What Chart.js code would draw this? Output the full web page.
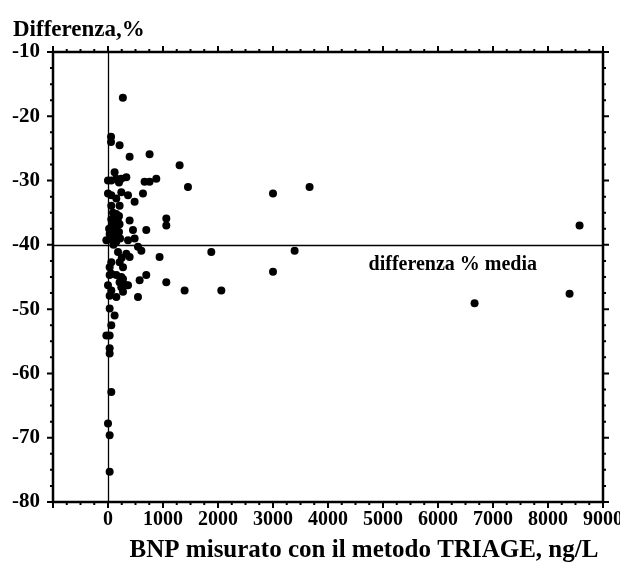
<!DOCTYPE html>
<html>
<head>
<meta charset="utf-8">
<script src="https://cdn.jsdelivr.net/npm/chart.js@4.4.1/dist/chart.umd.min.js"></script>
<style>
  html, body { margin: 0; padding: 0; background: #fff; }
  #wrap { width: 620px; height: 568px; }
</style>
</head>
<body>
<div id="wrap"><canvas id="c" width="620" height="568"></canvas></div>
<script>
// BNP (TRIAGE), ng/L
var bnp = [
  270, 55, 55, 211, 393, 756, 1302, 120,
  0, 151, 242, 333, 665, 756, 878, 60, 200, 1454, 3000, 3665,
  0, 60, 242, 364, 636, 151, 60, 211, 484,
  90, 150, 200, 120, 60, 180, 100, 210, 60, 150, 90, 200, 30, 120, 180, 60, 150, 100, 20, 220,
  393, 1060, 1060, 454, 696, 484, 364, 545, 606, -30, 8574,
  938, 1878, 3393, 182, 333, 393, 60, 211, 273, 30, 250,
  60, 242, 696, 575, 1060, 30, 151, 273, 333, 242, 3000,
  1393, 2060, 6665, 8392,
  0, 60, 151, 273, 545, 364, 211, 30,
  30, 120, 60, -30, 30, 30, 30, 60, 0, 30, 30
]
// differenza %
var diff = [
  -17.1, -23.2, -24.0, -24.5, -26.3, -25.9, -27.6, -28.7,
  -30.0, -29.7, -29.7, -29.5, -30.2, -30.2, -29.7, -30.0, -30.3, -31.0, -32.0, -31.0,
  -32.0, -32.3, -31.8, -32.3, -32.0, -32.8, -33.9, -33.9, -33.3,
  -35.0, -35.2, -35.5, -35.8, -36.0, -36.3, -36.6, -36.8, -37.2, -37.4, -37.8, -38.0, -38.3, -38.5, -38.8, -39.2, -39.5, -40.0, -37.5, -39.0,
  -36.2, -35.9, -37.0, -37.7, -37.7, -39.0, -39.3, -40.3, -40.9, -39.3, -37.0,
  -41.9, -41.1, -40.9, -41.1, -41.4, -41.9, -42.7, -42.7, -43.5, -43.5, -42.0,
  -44.5, -45.0, -44.7, -45.5, -45.8, -44.7, -44.7, -45.3, -46.3, -46.6, -44.2,
  -47.1, -47.1, -49.1, -47.6,
  -46.3, -47.1, -48.1, -47.3, -48.1, -46.3, -45.8, -47.9,
  -49.9, -51.0, -52.5, -54.1, -54.1, -56.1, -56.9, -62.9, -67.8, -69.6, -75.3
]
var meanDiff = -40
var xMin = -1000, xMax = 9000, xStep = 1000, xMinor = 250
var yMin = -80, yMax = -10, yStep = 10, yMinor = 2.5

var points = []
for (var i = 0; i < bnp.length; i++) {
  points.push({x: bnp[i], y: diff[i]})
}

var FONT = "'Liberation Serif', 'Times New Roman', serif"

var framePlugin = {
  id: 'frame',
  beforeDatasetsDraw: function(chart) {
    var ctx = chart.ctx
    var xs = chart.scales.x, ys = chart.scales.y
    var a = chart.chartArea
    ctx.save()
    ctx.strokeStyle = '#000'
    // zero line and mean line
    ctx.lineWidth = 1.3
    ctx.beginPath()
    var x0 = Math.round(xs.getPixelForValue(0)) + 0.5
    ctx.moveTo(x0, a.top)
    ctx.lineTo(x0, a.bottom)
    var ym = Math.round(ys.getPixelForValue(meanDiff)) + 0.5
    ctx.moveTo(a.left, ym)
    ctx.lineTo(a.right, ym)
    ctx.stroke()
    ctx.restore()
  },
  afterDraw: function(chart) {
    var ctx = chart.ctx
    var xs = chart.scales.x, ys = chart.scales.y
    var a = chart.chartArea
    ctx.save()
    ctx.strokeStyle = '#000'
    ctx.lineWidth = 2.5
    ctx.strokeRect(a.left, a.top, a.right - a.left, a.bottom - a.top)
    ctx.lineWidth = 2
    ctx.beginPath()
    var v, p, len
    for (v = xMin; v <= xMax + 0.01; v += xMinor) {
      p = xs.getPixelForValue(v)
      len = (v % xStep === 0) ? 6 : 3
      ctx.moveTo(p, a.bottom); ctx.lineTo(p, a.bottom + len)
      ctx.moveTo(p, a.top); ctx.lineTo(p, a.top - len)
    }
    for (v = yMin; v <= yMax + 0.01; v += yMinor) {
      p = ys.getPixelForValue(v)
      len = (v % yStep === 0) ? 6 : 3
      ctx.moveTo(a.left, p); ctx.lineTo(a.left - len, p)
      ctx.moveTo(a.right, p); ctx.lineTo(a.right + len, p)
    }
    ctx.stroke()
    ctx.fillStyle = '#000'
    // mean label
    ctx.font = 'bold 20px ' + FONT
    ctx.textAlign = 'center'
    ctx.textBaseline = 'middle'
    ctx.fillText('differenza % media', xs.getPixelForValue(6269), ys.getPixelForValue(-43.1))
    // x title
    ctx.font = 'bold 25px ' + FONT
    ctx.textBaseline = 'alphabetic'
    ctx.fillText('BNP misurato con il metodo TRIAGE, ng/L', 364, 557)
    // y title
    ctx.font = 'bold 23px ' + FONT
    ctx.textAlign = 'left'
    ctx.fillText('Differenza,%', 13, 36)
    ctx.restore()
  }
}

var ctx = document.getElementById('c')
var chart = new Chart(ctx, {
  type: 'scatter',
  data: {
    datasets: [{
      data: points,
      backgroundColor: '#000',
      borderColor: '#000',
      pointRadius: 4,
      pointHoverRadius: 4,
      borderWidth: 0
    }]
  },
  options: {
    responsive: false,
    animation: false,
    events: [],
    layout: { padding: { left: 0, right: 17, top: 52, bottom: 0 } },
    plugins: { legend: { display: false }, tooltip: { enabled: false } },
    scales: {
      x: {
        type: 'linear',
        min: xMin, max: xMax,
        grid: { display: false, drawTicks: false },
        border: { display: false },
        afterFit: function(s) {
          s.height = 66
          s.paddingLeft = 0
          s.paddingRight = 0
        },
        ticks: {
          stepSize: xStep,
          color: '#000',
          padding: 6,
          maxRotation: 0,
          autoSkip: false,
          font: { family: FONT, size: 20, weight: 'bold' },
          callback: function(v) { return v < 0 ? '' : v }
        }
      },
      y: {
        type: 'linear',
        min: yMin, max: yMax,
        grid: { display: false, drawTicks: false },
        border: { display: false },
        afterFit: function(s) {
          s.width = 53
          s.paddingTop = 0
          s.paddingBottom = 0
        },
        ticks: {
          stepSize: yStep,
          color: '#000',
          padding: 13,
          font: { family: FONT, size: 21, weight: 'bold' }
        }
      }
    }
  },
  plugins: [framePlugin]
})
</script>
</body>
</html>
